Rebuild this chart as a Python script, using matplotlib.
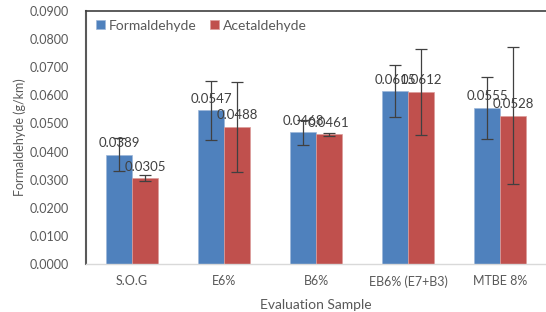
import matplotlib.pyplot as plt
import numpy as np

# Data
samples = ["S.O.G", "E6%", "B6%", "EB6% (E7+B3)", "MTBE 8%"]
formaldehyde = [0.0389, 0.0547, 0.0468, 0.0615, 0.0555]
acetaldehyde = [0.0305, 0.0488, 0.0461, 0.0612, 0.0528]
formaldehyde_err = [0.0058, 0.0105, 0.0046, 0.0092, 0.0110]
acetaldehyde_err = [0.0011, 0.0160, 0.0004, 0.0153, 0.0245]
y_ticks = np.arange(0, 0.0901, 0.01)

plt.rcParams['font.family'] = ['Lato', 'DejaVu Sans']
text_color = "#595959"

fig = plt.figure(figsize=(5.46, 3.12), dpi=100)
ax = fig.add_axes([86 / 546, 48 / 312, 460 / 546, 253 / 312])

x = np.arange(len(samples))
w = 0.28
err_kw = dict(ecolor="#404040", elinewidth=0.9, capsize=4, capthick=0.9)
b1 = ax.bar(x - w / 2, formaldehyde, w, color="#4F81BD", edgecolor="#9DB7DA",
            linewidth=0.5, yerr=formaldehyde_err, error_kw=err_kw, label="Formaldehyde")
b2 = ax.bar(x + w / 2, acetaldehyde, w, color="#C0504D", edgecolor="#DC9C9A",
            linewidth=0.5, yerr=acetaldehyde_err, error_kw=err_kw, label="Acetaldehyde")

# Data labels above the bars
for bars, vals in [(b1, formaldehyde), (b2, acetaldehyde)]:
    for rect, v in zip(bars, vals):
        ax.annotate(f"{v:.4f}", (rect.get_x() + rect.get_width() / 2, v),
                    xytext=(0, 4), textcoords="offset points", ha="center",
                    va="bottom", fontsize=9.5, color="#404040")

ax.set_xlim(-0.5, 4.5)
ax.set_ylim(0, 0.09)
ax.set_yticks(y_ticks)
ax.set_yticklabels([f"{t:.4f}" for t in y_ticks])
ax.set_xticks(x)
ax.set_xticklabels(samples)
ax.tick_params(length=0, labelsize=9, colors=text_color, pad=8)
ax.tick_params(axis="y", pad=12)

ax.spines["right"].set_visible(False)
ax.spines["left"].set_color("#595959")
ax.spines["left"].set_linewidth(1.5)
ax.spines["top"].set_color("#404040")
ax.spines["top"].set_linewidth(1.2)
ax.spines["bottom"].set_color("#D9D9D9")
ax.spines["bottom"].set_linewidth(1.0)

ax.set_ylabel("Formaldehyde (g/km)", fontsize=9, color=text_color, labelpad=3)
ax.set_xlabel("Evaluation Sample", fontsize=10, color=text_color, labelpad=8)

ax.legend(loc="upper left", bbox_to_anchor=(-0.005, 1.015), ncol=2, frameon=False,
          handlelength=0.6, handleheight=0.6, handletextpad=0.3, columnspacing=1.0,
          fontsize=10, labelcolor=text_color)

fig.savefig("out.png", dpi=100)
